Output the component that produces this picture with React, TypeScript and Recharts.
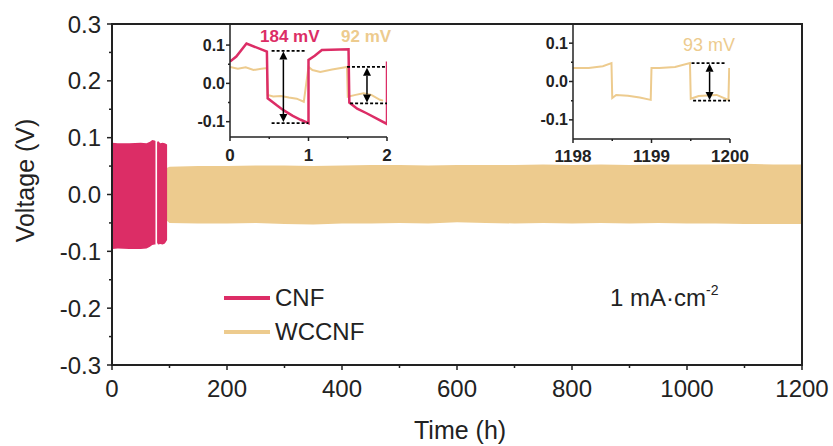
import { ComposedChart, Area, Line, XAxis, YAxis, ReferenceArea, ReferenceLine } from 'recharts';

const FONT = '"Liberation Sans", Arial, sans-serif';
const PINK = '#dc2d66';
const TAN = '#edcb8e';
const INK = '#222';

// main plot: envelope of the voltage cycling (upper / lower edge)
const cnfTime = [0, 0.6, 10, 30, 50, 60, 66, 70, 74, 75.6, 76.5, 78.4, 80, 84, 88, 92, 95.8];
const cnfHigh = [0.088, 0.091, 0.09, 0.09, 0.091, 0.09, 0.093, 0.096, 0.095, 0.094, null, 0.092, 0.094, 0.09, 0.091, 0.09, 0.088];
const cnfLow = [-0.105, -0.096, -0.095, -0.096, -0.096, -0.095, -0.092, -0.089, -0.088, -0.088, null, -0.085, -0.088, -0.087, -0.088, -0.086, -0.08];

const wcTime = [94, 100, 150, 200, 250, 300, 350, 400, 450, 500, 550, 600, 650, 700, 750, 800, 850, 900, 950, 1000, 1050, 1100, 1150, 1200];
const wcHigh = [0.046, 0.049, 0.05, 0.05, 0.051, 0.051, 0.05, 0.051, 0.052, 0.052, 0.051, 0.052, 0.052, 0.052, 0.053, 0.052, 0.053, 0.052, 0.053, 0.053, 0.053, 0.054, 0.053, 0.053];
const wcLow = [-0.045, -0.05, -0.051, -0.051, -0.05, -0.052, -0.053, -0.051, -0.051, -0.05, -0.051, -0.049, -0.05, -0.051, -0.05, -0.051, -0.05, -0.051, -0.05, -0.051, -0.051, -0.052, -0.052, -0.052];

const xTicks = [0, 100, 200, 300, 400, 500, 600, 700, 800, 900, 1000, 1100, 1200];
const yTicks = [-0.3, -0.25, -0.2, -0.15, -0.1, -0.05, 0, 0.05, 0.1, 0.15, 0.2, 0.25, 0.3];

// inset 1: first two hours
const inLCnfTime = [0, 0.08, 0.21, 0.47, 0.48, 0.6, 0.68, 0.8, 0.9, 1.0, 1.0, 1.08, 1.17, 1.51, 1.52, 1.62, 1.74, 1.87, 2.0, 2.0];
const inLCnf = [0.057, 0.07, 0.104, 0.083, -0.039, -0.058, -0.07, -0.085, -0.095, -0.104, 0.061, 0.072, 0.087, 0.089, -0.05, -0.066, -0.078, -0.092, -0.106, 0.057];
const inLWcTime = [0, 0.1, 0.2, 0.3, 0.4, 0.47, 0.48, 0.55, 0.65, 0.75, 0.85, 0.94, 1.0, 1.05, 1.15, 1.3, 1.49, 1.5, 1.6, 1.7, 1.8, 1.91, 1.95];
const inLWc = [0.043, 0.038, 0.042, 0.035, 0.038, 0.04, -0.03, -0.034, -0.033, -0.037, -0.04, -0.048, 0.043, 0.035, 0.03, 0.036, 0.043, -0.035, -0.03, -0.026, -0.03, -0.043, -0.045];
const inLXTicks = [0, 0.5, 1, 1.5, 2];

// inset 2: last two hours
const inRTime = [1198, 1198.2, 1198.38, 1198.49, 1198.5, 1198.55, 1198.7, 1198.85, 1198.99, 1199.0, 1199.1, 1199.3, 1199.49, 1199.5, 1199.6, 1199.83, 1199.98, 1199.99];
const inRWc = [0.035, 0.035, 0.04, 0.048, -0.043, -0.035, -0.037, -0.042, -0.048, 0.035, 0.035, 0.038, 0.048, -0.045, -0.038, -0.035, -0.048, 0.035];
const inRXTicks = [1198, 1198.5, 1199, 1199.5, 1200];
const inYTicks = [-0.1, -0.05, 0, 0.05, 0.1];

const cnfBand = cnfTime.map((t, i) => ({ t, v: cnfHigh[i] == null ? null : [cnfLow[i], cnfHigh[i]] }));
const wcBand = wcTime.map((t, i) => ({ t, v: [wcLow[i], wcHigh[i]] }));
const toPts = (ts: number[], vs: number[]) => ts.map((t, i) => ({ t, v: vs[i] }));

const isTenth = (v: number) => Math.abs(v * 10 - Math.round(v * 10)) < 1e-6;
const isWhole = (v: number) => Math.abs(v - Math.round(v)) < 1e-6;

function makeYTick(len: number, minor: number, gap: number, size: number, weight: number) {
  return (props: any) => {
    const { x, y, payload } = props;
    const major = isTenth(payload.value);
    return (
      <g>
        <line x1={x} x2={x - (major ? len : minor)} y1={y} y2={y} stroke={INK} strokeWidth={1.5} />
        {major && (
          <text x={x - gap} y={y} textAnchor="end" dominantBaseline="central" fontSize={size} fontWeight={weight} fill={INK} fontFamily={FONT}>
            {payload.value.toFixed(1)}
          </text>
        )}
      </g>
    );
  };
}

function makeXTick(len: number, minor: number, gap: number, size: number, weight: number, isMajor: (v: number) => boolean) {
  return (props: any) => {
    const { x, y, payload } = props;
    const major = isMajor(payload.value);
    return (
      <g>
        <line x1={x} x2={x} y1={y} y2={y + (major ? len : minor)} stroke={INK} strokeWidth={1.5} />
        {major && (
          <text x={x} y={y + gap} textAnchor="middle" dominantBaseline="central" fontSize={size} fontWeight={weight} fill={INK} fontFamily={FONT}>
            {Math.round(payload.value)}
          </text>
        )}
      </g>
    );
  };
}

const ArrowShape = (props: any) => {
  const { x1, y1, x2, y2 } = props;
  const top = Math.min(y1, y2);
  const bot = Math.max(y1, y2);
  const h = 8;
  const w = 4;
  return (
    <g>
      <line x1={x1} x2={x2} y1={top + h} y2={bot - h} stroke="#000" strokeWidth={1.5} />
      <path d={`M${x1},${top} L${x1 - w},${top + h} L${x1 + w},${top + h} Z`} fill="#000" />
      <path d={`M${x1},${bot} L${x1 - w},${bot - h} L${x1 + w},${bot - h} Z`} fill="#000" />
    </g>
  );
};

const dash = { stroke: '#000', strokeWidth: 1.8, strokeDasharray: '3 2' };

function InsetLeft() {
  return (
    <div style={{ position: 'absolute', left: 190, top: 24 }}>
      <ComposedChart width={225} height={141} margin={{ top: 0, right: 28, left: 0, bottom: 0 }}>
        <XAxis dataKey="t" type="number" domain={[0, 2]} ticks={inLXTicks} interval={0} height={28} tickSize={0} tickMargin={0}
          tickLine={false} axisLine={{ stroke: INK, strokeWidth: 1.5 }} tick={makeXTick(4, 2, 18, 17, 700, isWhole)} allowDataOverflow />
        <YAxis type="number" domain={[-0.14, 0.155]} ticks={inYTicks} interval={0} width={40} tickSize={0} tickMargin={0}
          tickLine={false} axisLine={{ stroke: INK, strokeWidth: 1.5 }} tick={makeYTick(4, 2, 5, 16, 700)} allowDataOverflow />
        <Line data={toPts(inLWcTime, inLWc)} dataKey="v" type="linear" stroke={TAN} strokeWidth={2} dot={false} isAnimationActive={false} />
        <Line data={toPts(inLCnfTime, inLCnf)} dataKey="v" type="linear" stroke={PINK} strokeWidth={2.5} dot={false} isAnimationActive={false} />
        <ReferenceLine segment={[{ x: 0.53, y: 0.085 }, { x: 0.96, y: 0.085 }]} {...dash} />
        <ReferenceLine segment={[{ x: 0.53, y: -0.104 }, { x: 1.0, y: -0.104 }]} {...dash} />
        <ReferenceLine segment={[{ x: 1.49, y: 0.043 }, { x: 2.0, y: 0.043 }]} {...dash} />
        <ReferenceLine segment={[{ x: 1.53, y: -0.052 }, { x: 2.0, y: -0.052 }]} {...dash} />
        <ReferenceLine segment={[{ x: 0.68, y: 0.083 }, { x: 0.68, y: -0.101 }]} shape={ArrowShape} />
        <ReferenceLine segment={[{ x: 1.745, y: 0.041 }, { x: 1.745, y: -0.05 }]} shape={ArrowShape} />
      </ComposedChart>
    </div>
  );
}

function InsetRight() {
  return (
    <div style={{ position: 'absolute', left: 533, top: 24 }}>
      <ComposedChart width={225} height={143} margin={{ top: 0, right: 28, left: 0, bottom: 0 }}>
        <XAxis dataKey="t" type="number" domain={[1198, 1200]} ticks={inRXTicks} interval={0} height={28} tickSize={0} tickMargin={0}
          tickLine={false} axisLine={{ stroke: INK, strokeWidth: 1.5 }} tick={makeXTick(4, 2, 17, 17, 700, isWhole)} allowDataOverflow />
        <YAxis type="number" domain={[-0.15, 0.15]} ticks={inYTicks} interval={0} width={40} tickSize={0} tickMargin={0}
          tickLine={false} axisLine={{ stroke: INK, strokeWidth: 1.5 }} tick={makeYTick(4, 2, 5, 16, 700)} allowDataOverflow />
        <Line data={toPts(inRTime, inRWc)} dataKey="v" type="linear" stroke={TAN} strokeWidth={2} dot={false} isAnimationActive={false} />
        <ReferenceLine segment={[{ x: 1199.51, y: 0.048 }, { x: 1199.94, y: 0.048 }]} {...dash} />
        <ReferenceLine segment={[{ x: 1199.53, y: -0.05 }, { x: 1200, y: -0.05 }]} {...dash} />
        <ReferenceLine segment={[{ x: 1199.74, y: 0.046 }, { x: 1199.74, y: -0.048 }]} shape={ArrowShape} />
      </ComposedChart>
    </div>
  );
}

const txt = (left: number, top: number, size: number, color: string, weight = 400): React.CSSProperties => ({
  position: 'absolute', left, top, fontSize: size, color, fontWeight: weight, lineHeight: 1, whiteSpace: 'nowrap', fontFamily: FONT,
});

export default function App() {
  return (
    <div style={{ position: 'absolute', left: 0, top: 0, width: 833, height: 446, background: '#fff', fontFamily: FONT, overflow: 'hidden' }}>
      <ComposedChart width={833} height={446} margin={{ top: 24, right: 31, left: 0, bottom: 0 }}>
        <XAxis dataKey="t" type="number" domain={[0, 1200]} ticks={xTicks} interval={0} height={81} tickSize={0} tickMargin={0}
          tickLine={false} axisLine={{ stroke: INK, strokeWidth: 2 }} tick={makeXTick(5, 3, 23, 24, 400, (v) => v % 200 === 0)} allowDataOverflow />
        <YAxis type="number" domain={[-0.3, 0.3]} ticks={yTicks} interval={0} width={112} tickSize={0} tickMargin={0}
          tickLine={false} axisLine={{ stroke: INK, strokeWidth: 2 }} tick={makeYTick(5, 3, 11, 24, 400)} allowDataOverflow />
        <Area data={wcBand} dataKey="v" type="linear" stroke="none" fill={TAN} fillOpacity={1} isAnimationActive={false} />
        <Area data={cnfBand} dataKey="v" type="linear" stroke="none" fill={PINK} fillOpacity={1} isAnimationActive={false} />
        <ReferenceArea x1={0} x2={1200} y1={-0.3} y2={0.3} fill="none" stroke={INK} strokeWidth={2} />
      </ComposedChart>

      <InsetLeft />
      <InsetRight />

      <div style={txt(260, 28, 17, PINK, 700)}>184 mV</div>
      <div style={txt(341, 28, 17, TAN, 700)}>92 mV</div>
      <div style={txt(683, 36, 18, TAN)}>93 mV</div>

      <div style={{ position: 'absolute', left: 224, top: 296, width: 46, height: 4, background: PINK }} />
      <div style={txt(275, 286, 24, INK)}>CNF</div>
      <div style={{ position: 'absolute', left: 224, top: 330, width: 46, height: 4, background: TAN }} />
      <div style={txt(275, 320, 24, INK)}>WCCNF</div>

      <div style={txt(610, 286, 24, INK)}>
        1 mA·cm<sup style={{ fontSize: 14, verticalAlign: 'top', position: 'relative', top: -3 }}>-2</sup>
      </div>

      <div style={txt(414, 418, 25, INK)}>Time (h)</div>
      <div style={{ ...txt(-40, 168, 25, INK), width: 130, textAlign: 'center', transform: 'rotate(-90deg)', transformOrigin: 'center' }}>
        Voltage (V)
      </div>
    </div>
  );
}
